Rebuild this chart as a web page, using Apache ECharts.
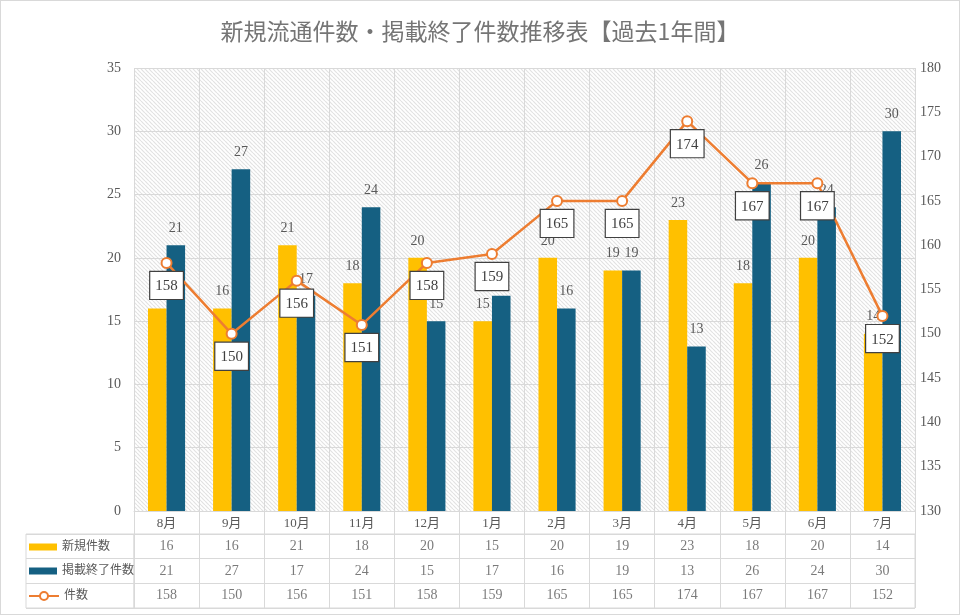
<!DOCTYPE html>
<html>
<head>
    <meta charset="utf-8">
    <script src="https://cdn.jsdelivr.net/npm/echarts@6/dist/echarts.min.js"></script>
    <style>
        body { margin: 0; }
        #main { width: 960px; height: 615px; box-sizing: border-box; border: 1px solid #d9d9d9; }
    </style>
</head>
<body>
    <div id="main"></div>

    <script type="text/javascript">
        // データ
        var months = ['8月', '9月', '10月', '11月', '12月', '1月', '2月', '3月', '4月', '5月', '6月', '7月'];
        var shinki = [16, 16, 21, 18, 20, 15, 20, 19, 23, 18, 20, 14];
        var keisaiEnd = [21, 27, 17, 24, 15, 17, 16, 19, 13, 26, 24, 30];
        var kensu = [158, 150, 156, 151, 158, 159, 165, 165, 174, 167, 167, 152];
        var rowNames = ['新規件数', '掲載終了件数', '件数'];

        var serif = '"Liberation Serif", "Noto Sans CJK JP", serif';
        var gridLine = '#d9d9d9';
        var textGrey = '#595959';

        // 斜線の背景
        var pat = document.createElement('canvas');
        pat.width = 4; pat.height = 4;
        var ctx = pat.getContext('2d');
        ctx.fillStyle = '#ffffff';
        ctx.fillRect(0, 0, 4, 4);
        ctx.strokeStyle = '#e2e2e2';
        ctx.lineWidth = 1.2;
        [-4, 0, 4].forEach(function (k) {
            ctx.beginPath();
            ctx.moveTo(k, 0);
            ctx.lineTo(k + 4, 4);
            ctx.stroke();
        });

        // 表のセル
        var tableRows = [shinki, keisaiEnd, kensu];
        var cells = [];
        tableRows.forEach(function (row, r) {
            row.forEach(function (v, c) {
                cells.push([c, r, v]);
            });
        });

        var legendText = { fontFamily: serif, fontSize: 12, color: textGrey };

        var myChart = echarts.init(document.getElementById('main'));
        var option = {
            animation: false,
            title: {
                text: '新規流通件数・掲載終了件数推移表【過去1年間】',
                left: 'center',
                top: 14,
                textStyle: { fontFamily: '"Noto Sans CJK JP", sans-serif', fontSize: 23, fontWeight: 'normal', color: '#757575' }
            },
            legend: [{
                data: ['新規件数'], left: 28, top: 540, padding: 0,
                itemWidth: 28, itemHeight: 7, icon: 'rect', textStyle: legendText
            }, {
                data: ['掲載終了件数'], left: 28, top: 564, padding: 0,
                itemWidth: 28, itemHeight: 7, icon: 'rect', textStyle: legendText
            }, {
                data: ['件数'], left: 27, top: 589, padding: 0,
                itemWidth: 30, itemHeight: 10, textStyle: legendText
            }],
            grid: [{
                left: 133, right: 44, top: 67, height: 443,
                show: true, backgroundColor: { image: pat, repeat: 'repeat' }, borderWidth: 0
            }, {
                left: 133, right: 44, top: 533, height: 74,
                show: true, borderColor: gridLine, borderWidth: 1
            }, {
                left: 25, width: 108, top: 533, height: 74,
                show: true, borderColor: gridLine, borderWidth: 1
            }],
            xAxis: [{
                type: 'category', gridIndex: 0, data: months,
                axisLine: { lineStyle: { color: gridLine } },
                axisTick: { show: true, length: 23, interval: 0, lineStyle: { color: gridLine } },
                axisLabel: { margin: 6, interval: 0, fontFamily: serif, fontSize: 13, color: textGrey },
                splitLine: { show: true, interval: 0, lineStyle: { color: gridLine } }
            }, {
                type: 'category', gridIndex: 1, data: months,
                axisLine: { show: false }, axisTick: { show: false }, axisLabel: { show: false },
                splitLine: { show: true, interval: 0, lineStyle: { color: gridLine } }
            }, {
                type: 'value', gridIndex: 2, show: false, min: 0, max: 1
            }],
            yAxis: [{
                type: 'value', gridIndex: 0, min: 0, max: 35, interval: 5,
                axisLine: { show: false }, axisTick: { show: false },
                axisLabel: { margin: 13, fontFamily: serif, fontSize: 14, color: textGrey },
                splitLine: { lineStyle: { color: gridLine } }
            }, {
                type: 'value', gridIndex: 0, position: 'right', min: 130, max: 180, interval: 5,
                axisLine: { show: false }, axisTick: { show: false },
                axisLabel: { margin: 5, fontFamily: serif, fontSize: 14, color: textGrey },
                splitLine: { show: false }
            }, {
                type: 'category', gridIndex: 1, data: rowNames, inverse: true,
                axisLine: { show: false }, axisTick: { show: false }, axisLabel: { show: false },
                splitLine: { show: true, interval: 0, lineStyle: { color: gridLine } }
            }, {
                type: 'category', gridIndex: 2, data: rowNames, inverse: true,
                axisLine: { show: false }, axisTick: { show: false }, axisLabel: { show: false },
                splitLine: { show: true, interval: 0, lineStyle: { color: gridLine } }
            }],
            series: [{
                name: '新規件数', type: 'bar', xAxisIndex: 0, yAxisIndex: 0,
                data: shinki, barGap: '0%', barCategoryGap: '43%',
                itemStyle: { color: '#FFC000' },
                label: { show: true, position: 'top', distance: 10, fontFamily: serif, fontSize: 14, color: textGrey }
            }, {
                name: '掲載終了件数', type: 'bar', xAxisIndex: 0, yAxisIndex: 0,
                data: keisaiEnd,
                itemStyle: { color: '#156082' },
                label: { show: true, position: 'top', distance: 10, fontFamily: serif, fontSize: 14, color: textGrey }
            }, {
                name: '件数', type: 'line', xAxisIndex: 0, yAxisIndex: 1,
                data: kensu, z: 5,
                symbol: 'circle', symbolSize: 10,
                lineStyle: { color: '#ED7D31', width: 2.5 },
                itemStyle: { color: '#ffffff', borderColor: '#ED7D31', borderWidth: 2 },
                label: {
                    show: true, position: 'bottom', distance: 3,
                    fontFamily: serif, fontSize: 15, color: '#404040',
                    backgroundColor: '#ffffff', borderColor: '#404040', borderWidth: 1.2,
                    padding: [7, 5, 5, 5]
                }
            }, {
                name: 'table', type: 'scatter', xAxisIndex: 1, yAxisIndex: 2,
                data: cells, symbolSize: 0, silent: true,
                label: {
                    show: true, position: 'inside',
                    formatter: function (p) { return p.value[2]; },
                    fontFamily: serif, fontSize: 14, color: textGrey
                }
            }]
        };

        myChart.setOption(option);
    </script>
</body>
</html>
